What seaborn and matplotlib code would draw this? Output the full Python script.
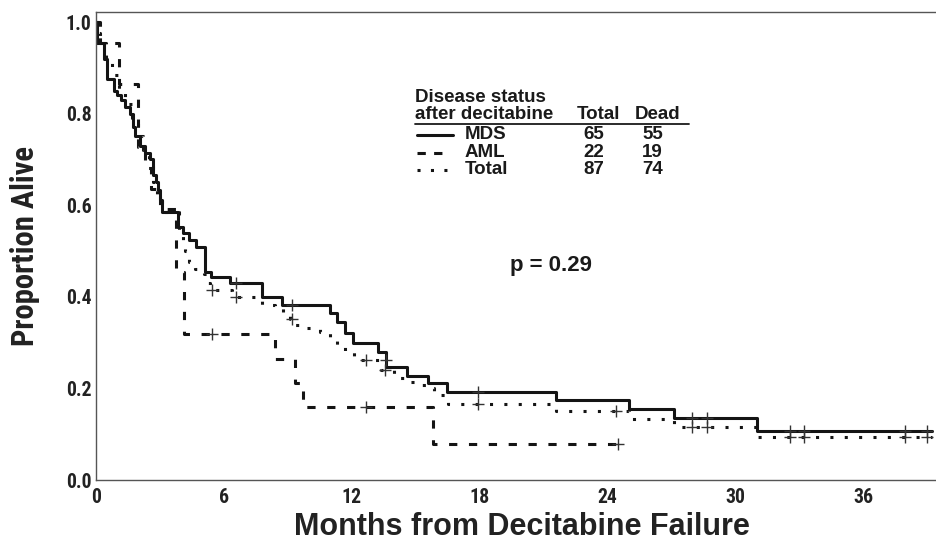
import numpy as np
import pandas as pd
import matplotlib
matplotlib.use("Agg")
import matplotlib.pyplot as plt
from matplotlib import font_manager as fm
import seaborn as sns

# ---------------- data ----------------
mds_time = [0, 0.05, 0.39, 0.52, 0.86, 0.99, 1.2, 1.4, 1.6, 1.75, 1.85, 2.08, 2.3, 2.55,
            2.7, 2.85, 2.93, 3.02, 3.1, 3.88, 4.1, 4.4, 4.7, 5.13, 5.4, 6.3, 7.79, 8.72,
            11.0, 11.3, 11.7, 12.05, 13.25, 13.6, 14.58, 15.6, 16.46, 21.6, 25.0, 27.1,
            31.0, 39.2]
mds_surv = [1.0, 0.954, 0.92, 0.876, 0.85, 0.84, 0.83, 0.815, 0.80, 0.77, 0.75, 0.73, 0.715,
            0.70, 0.666, 0.65, 0.633, 0.611, 0.585, 0.553, 0.539, 0.524, 0.509, 0.455, 0.444,
            0.43, 0.40, 0.382, 0.365, 0.345, 0.32, 0.30, 0.28, 0.247, 0.226, 0.211, 0.193,
            0.175, 0.155, 0.135, 0.107, 0.107]
mds_cens_time = [6.6, 9.2, 13.6, 17.94, 27.95, 28.65, 32.55, 33.2, 37.95, 38.96]
mds_cens_surv = [0.43, 0.382, 0.262, 0.193, 0.135, 0.135, 0.107, 0.107, 0.107, 0.107]

aml_time = [0, 0.2, 1.1, 2.0, 2.3, 2.6, 3.0, 3.75, 4.15, 8.4, 9.35, 9.74, 15.83, 24.5]
aml_surv = [1.0, 0.955, 0.864, 0.727, 0.682, 0.636, 0.591, 0.455, 0.318, 0.265, 0.212,
            0.159, 0.0795, 0.0795]
aml_cens_time = [5.44, 12.7, 24.5]
aml_cens_surv = [0.318, 0.159, 0.0795]

tot_time = [0, 0.1, 0.2, 0.5, 0.75, 1.1, 1.4, 1.7, 2.0, 2.2, 2.5, 2.7, 2.9, 3.1, 3.9, 4.1,
            4.2, 4.4, 4.65, 5.1, 5.2, 5.35, 6.4, 7.8, 8.4, 8.8, 9.1, 9.35, 9.75, 10.5, 11.0,
            11.3, 11.7, 12.1, 12.4, 13.4, 14.0, 14.6, 15.1, 15.6, 15.85, 16.5, 21.6, 25.0,
            27.1, 31.0, 39.2]
tot_surv = [1.0, 0.977, 0.954, 0.92, 0.885, 0.85, 0.82, 0.79, 0.75, 0.72, 0.69, 0.65, 0.62,
            0.585, 0.54, 0.52, 0.50, 0.476, 0.46, 0.45, 0.43, 0.415, 0.40, 0.382, 0.375,
            0.364, 0.352, 0.338, 0.332, 0.324, 0.31, 0.291, 0.28, 0.268, 0.262, 0.24, 0.222,
            0.215, 0.207, 0.20, 0.185, 0.166, 0.151, 0.1325, 0.1165, 0.094, 0.094]
tot_cens_time = [5.44, 6.6, 9.2, 12.7, 13.55, 17.94, 24.4, 27.95, 28.65, 32.55, 33.2,
                 37.95, 38.96]
tot_cens_surv = [0.415, 0.40, 0.352, 0.262, 0.24, 0.166, 0.151, 0.1165, 0.1165, 0.094,
                 0.094, 0.094, 0.094]

groups = ["MDS", "AML", "Total"]
group_total = [65, 22, 87]
group_dead = [55, 19, 74]

x_ticks = [0, 6, 12, 18, 24, 30, 36]
y_ticks = [0.0, 0.2, 0.4, 0.6, 0.8, 1.0]
p_text = "p = 0.29"

# ---------------- frames ----------------
curves = pd.concat([
    pd.DataFrame({"time": mds_time, "surv": mds_surv, "group": "MDS"}),
    pd.DataFrame({"time": aml_time, "surv": aml_surv, "group": "AML"}),
    pd.DataFrame({"time": tot_time, "surv": tot_surv, "group": "Total"}),
], ignore_index=True)
cens = pd.concat([
    pd.DataFrame({"time": mds_cens_time, "surv": mds_cens_surv, "group": "MDS"}),
    pd.DataFrame({"time": aml_cens_time, "surv": aml_cens_surv, "group": "AML"}),
    pd.DataFrame({"time": tot_cens_time, "surv": tot_cens_surv, "group": "Total"}),
], ignore_index=True)

# ---------------- fonts ----------------
sns.set_style("white")
plt.rcParams["font.family"] = ["Liberation Sans", "DejaVu Sans"]


def font_exists(name):
    try:
        fm.findfont(fm.FontProperties(family=name), fallback_to_default=False)
        return True
    except Exception:
        return False


narrow_kw = None
for cand in ["Liberation Sans Narrow", "Arial Narrow", "Roboto Condensed",
             "Noto Sans Condensed", "Open Sans Condensed"]:
    if font_exists(cand):
        narrow_kw = dict(family=[cand, "DejaVu Sans"])
        break
if narrow_kw is None:
    for base in ["Noto Sans", "Roboto", "Open Sans"]:
        try:
            path = fm.findfont(fm.FontProperties(family=base, stretch="condensed",
                                                 weight="bold"),
                               fallback_to_default=False)
            if "ondensed" in path or "arrow" in path:
                narrow_kw = dict(family=[base, "DejaVu Sans"], fontstretch="condensed")
                break
        except Exception:
            pass
if narrow_kw is None:
    narrow_kw = dict(family=["Liberation Sans", "DejaVu Sans"])

fig = plt.figure(figsize=(9.37, 5.42), dpi=100)
ax = fig.add_axes([95.6 / 937, 62 / 542, (937 - 95.6) / 937, (480 - 12) / 542])

line_col = "#141414"
dash_map = {"MDS": "", "AML": (2.7, 3.8), "Total": (1.0, 3.7)}
sns.lineplot(data=curves, x="time", y="surv", hue="group", style="group",
             palette={g: line_col for g in groups}, dashes=dash_map,
             estimator=None, drawstyle="steps-post", linewidth=2.2,
             legend=False, ax=ax)
sns.scatterplot(data=cens, x="time", y="surv", marker="+", color="#333333",
                s=70, linewidth=1.0, legend=False, ax=ax, zorder=4)

ax.set_xlim(0, 39.45)
ax.set_ylim(0, 1.0 + 10 / 458)
ax.set_xticks(x_ticks)
ax.set_xticklabels([str(t) for t in x_ticks])
ax.set_yticks(y_ticks)
ax.set_yticklabels([f"{v:.1f}" for v in y_ticks])
ax.tick_params(axis="both", direction="in", length=3, width=0.8, color="#555555")
ax.tick_params(axis="x", pad=6)
ax.tick_params(axis="y", pad=3)

for side in ["left", "bottom", "top"]:
    ax.spines[side].set_visible(True)
    ax.spines[side].set_color("#555555")
    ax.spines[side].set_linewidth(1.0)
ax.spines["right"].set_visible(False)

ax.set_xlabel("Months from Decitabine Failure", fontsize=22, fontweight="bold",
              color="#222222")
ax.xaxis.set_label_coords((521.5 - 95.6) / 841.4, (480 - 535.0) / 468)
ax.xaxis.label.set_va("baseline")
ax.set_ylabel("Proportion Alive", fontsize=20, fontweight="bold", color="#222222",
              **narrow_kw)
ax.yaxis.set_label_coords((25 - 95.6) / 841.4, (480 - 246) / 468)
ax.yaxis.label.set_va("center")

for lab in ax.get_xticklabels() + ax.get_yticklabels():
    lab.set_fontweight("bold")
    lab.set_fontsize(15)
    lab.set_color("#222222")
    lab.set_family(narrow_kw["family"])
    if "fontstretch" in narrow_kw:
        lab.set_fontstretch(narrow_kw["fontstretch"])

# fit the narrow-font texts to the sizes seen in the reference
fig.canvas.draw()
r = fig.canvas.get_renderer()
yl = ax.yaxis.label
h = yl.get_window_extent(r).height
yl.set_fontsize(yl.get_fontsize() * 200.0 / h)
tl = ax.get_yticklabels()[0]
w = tl.get_window_extent(r).width
new_fs = tl.get_fontsize() * 26.0 / w
for lab in ax.get_xticklabels() + ax.get_yticklabels():
    lab.set_fontsize(new_fs)

# ---------------- legend table ----------------
fs = 13.5
tc = "#1a1a1a"
ax.text(14.97, 0.836, "Disease status", fontsize=fs, fontweight="bold", color=tc, va="center")
ax.text(14.97, 0.797, "after decitabine", fontsize=fs, fontweight="bold", color=tc, va="center")
ax.text(22.55, 0.797, "Total", fontsize=fs, fontweight="bold", color=tc, va="center")
ax.text(25.29, 0.797, "Dead", fontsize=fs, fontweight="bold", color=tc, va="center")
ax.plot([14.97, 27.82], [0.777, 0.777], color=tc, lw=1.3)
row_y = [0.7533, 0.7146, 0.6769]
sample_x = {"MDS": (15.05, 16.77), "AML": (15.05, 16.23), "Total": (15.07, 16.5)}
sample_dash = {"MDS": "", "AML": (2.72, 2.72), "Total": (1.0, 3.4)}
for g, yy, nt, nd in zip(groups, row_y, group_total, group_dead):
    ln, = ax.plot(list(sample_x[g]), [yy, yy], color=line_col, lw=2.2)
    if sample_dash[g]:
        ln.set_dashes(sample_dash[g])
    ax.text(17.32, yy, g, fontsize=fs, fontweight="bold", color=tc, va="center")
    ax.text(22.86, yy, str(nt), fontsize=fs, fontweight="bold", color=tc, va="center")
    ax.text(25.63, yy, str(nd), fontsize=fs, fontweight="bold", color=tc, va="center")

ax.text(19.43, 0.469, p_text, fontsize=16, fontweight="bold", color=tc, va="center")

fig.savefig("out.png", dpi=100)
